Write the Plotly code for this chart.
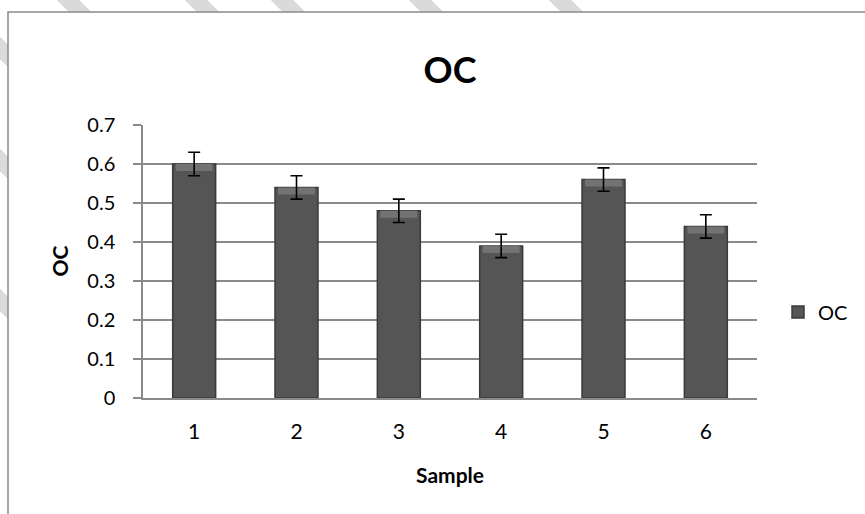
import plotly.graph_objects as go

samples = ["1", "2", "3", "4", "5", "6"]
oc_values = [0.60, 0.54, 0.48, 0.39, 0.56, 0.44]
oc_errors = [0.03, 0.03, 0.03, 0.03, 0.03, 0.03]
y_ticks = [0, 0.1, 0.2, 0.3, 0.4, 0.5, 0.6, 0.7]
y_tick_labels = ["0", "0.1", "0.2", "0.3", "0.4", "0.5", "0.6", "0.7"]

W, H = 865, 514
L, R, T, B = 143, 757, 125, 398  # plot area in pixels


def px(x):
    return (x - L) / (R - L)


def py(y):
    return (B - y) / (B - T)


FONT = "Lato, Calibri, Carlito, sans-serif"
BEVEL = 0.018  # height of lighter top bevel, in data units

fig = go.Figure()
fig.add_trace(go.Bar(
    x=samples, y=oc_values, name="OC",
    marker=dict(color="#555555", line=dict(color="#3a3a3a", width=1.5)),
    width=0.42, hoverinfo="x+y",
))
fig.add_trace(go.Bar(
    x=samples, y=[BEVEL] * len(oc_values), base=[v - BEVEL for v in oc_values],
    marker=dict(color="#737373", line=dict(width=0)),
    width=0.36, showlegend=False, hoverinfo="skip",
))
fig.add_trace(go.Scatter(
    x=samples, y=oc_values, mode="markers", marker=dict(size=1, opacity=0),
    error_y=dict(type="data", array=oc_errors, color="#000000", thickness=1.6, width=6),
    showlegend=False, hoverinfo="skip",
))

shapes = []
# watermark stripes (behind chart frame)
for c in [-300, -160, -48, 68, 196, 282, 420, 560]:
    shapes.append(dict(type="line", xref="paper", yref="paper", layer="below",
                       x0=px(c - 100), y0=py(-100), x1=px(c + 700), y1=py(700),
                       line=dict(color="#dadada", width=16)))
# chart frame
shapes.append(dict(type="rect", xref="paper", yref="paper", layer="below",
                   x0=px(8), y0=py(12), x1=px(W + 20), y1=py(H + 20),
                   fillcolor="white", line=dict(color="#8a8a8a", width=1.5)))

annotations = [
    dict(text="<b>OC</b>", xref="paper", yref="paper", x=px(59), y=0.5,
         xanchor="center", yanchor="middle", textangle=-90, showarrow=False,
         font=dict(size=21, family=FONT)),
    dict(text="<b>Sample</b>", xref="paper", yref="paper", x=0.5, y=py(474),
         xanchor="center", yanchor="middle", showarrow=False,
         font=dict(size=21, family=FONT)),
]

fig.update_layout(
    width=W, height=H,
    margin=dict(l=L, r=W - R, t=T, b=H - B, autoexpand=False),
    paper_bgcolor="white", plot_bgcolor="rgba(0,0,0,0)",
    font=dict(family=FONT, size=20, color="#000000"),
    title=dict(text="<b>OC</b>", x=(L + R) / 2 / W, xanchor="center",
               y=1 - 70 / H, yanchor="middle", font=dict(size=36, family=FONT)),
    showlegend=True,
    barmode="overlay",
    legend=dict(x=px(778), y=py(312), xanchor="left", yanchor="middle",
                font=dict(size=20, family=FONT), bgcolor="rgba(0,0,0,0)"),
    shapes=shapes,
    annotations=annotations,
)
fig.update_xaxes(
    showline=True, linecolor="#8a8a8a", linewidth=1.5, showgrid=False,
    ticks="", tickfont=dict(size=21), ticklabelstandoff=14, automargin=False,
)
fig.update_yaxes(
    range=[0, 0.7], tickvals=y_ticks, ticktext=y_tick_labels,
    showline=True, linecolor="#8a8a8a", linewidth=1.5,
    showgrid=True, gridcolor="#8a8a8a", gridwidth=1.5,
    ticks="outside", ticklen=8, tickcolor="#8a8a8a", tickwidth=1.5,
    tickfont=dict(size=20), ticklabelstandoff=14, zeroline=False, automargin=False,
)

fig.write_html("out.html", config={"displayModeBar": False},
               post_script="document.body.style.margin='0';document.body.style.padding='0';")
